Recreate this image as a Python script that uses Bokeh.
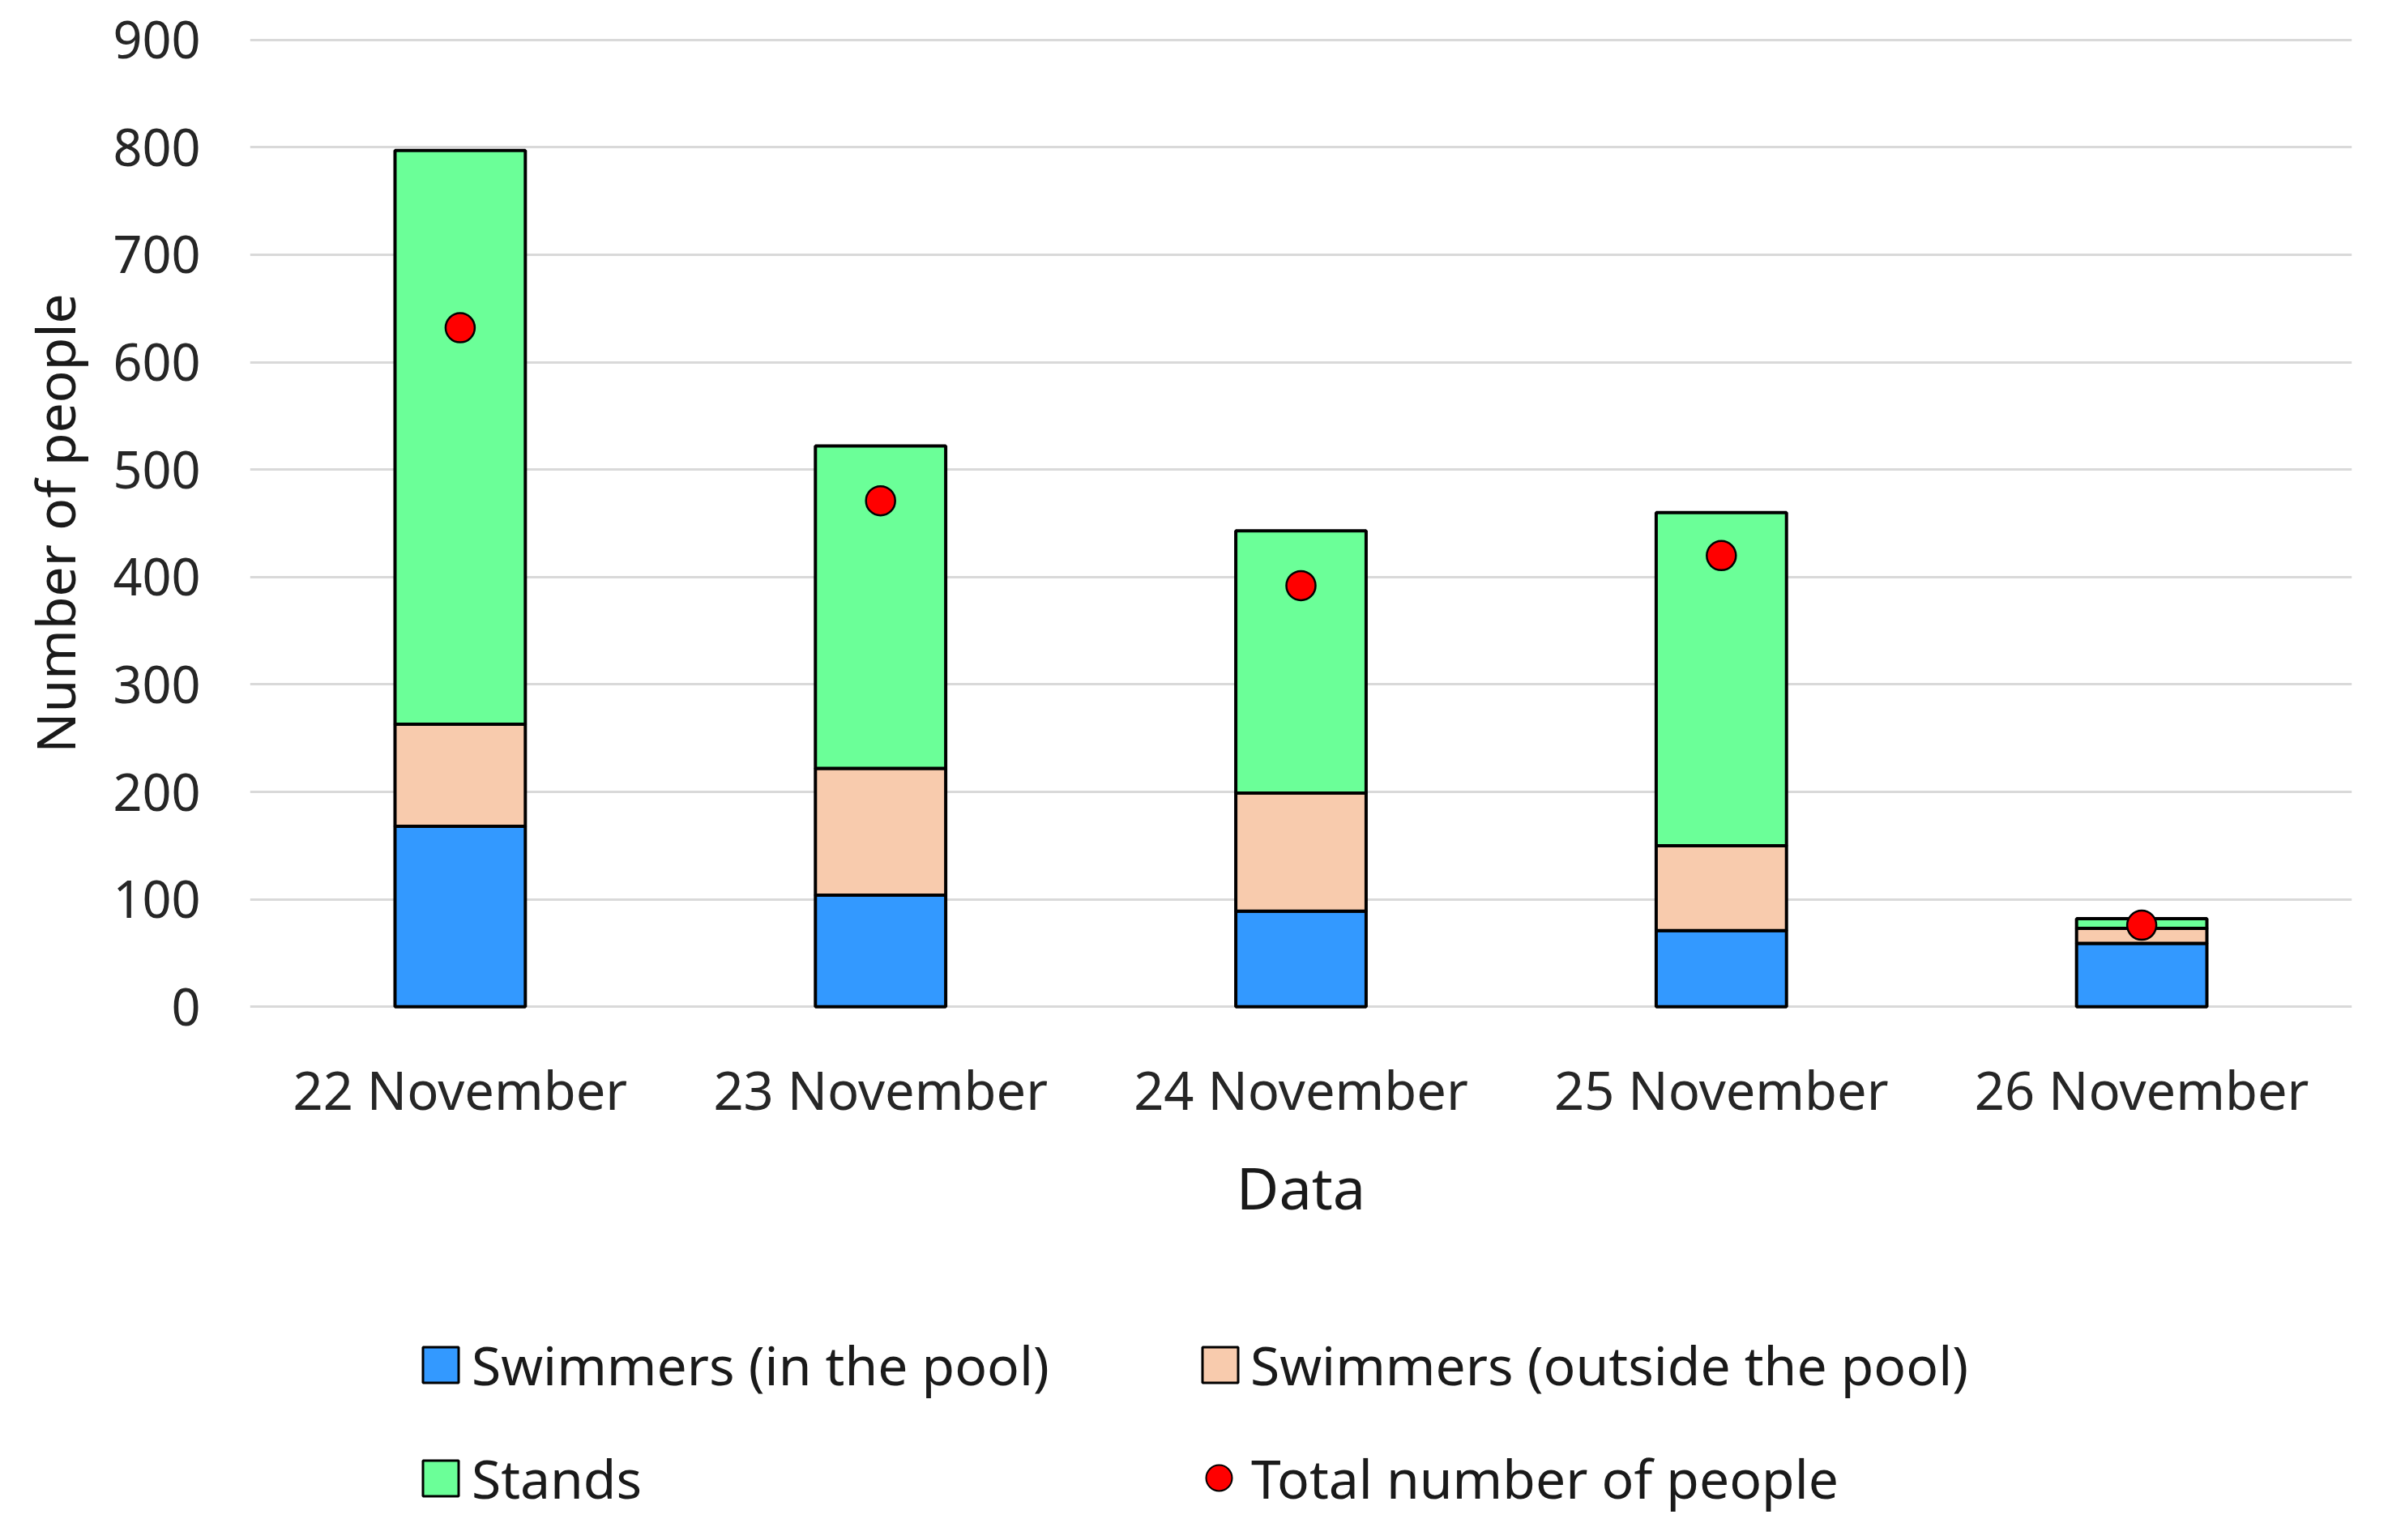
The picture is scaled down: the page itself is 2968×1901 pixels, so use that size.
from bokeh.plotting import figure
from bokeh.models import ColumnDataSource, Range1d, FactorRange, Legend, LegendItem
from bokeh.layouts import column
from bokeh.embed import file_html
from bokeh.resources import INLINE

dates = ["22 November", "23 November", "24 November", "25 November", "26 November"]
in_pool = [168, 104, 89, 71, 59]
outside_pool = [95, 118, 110, 79, 14]
stands = [534, 300, 244, 310, 9]
total_people = [632, 471, 392, 420, 76]
y_ticks = [0, 100, 200, 300, 400, 500, 600, 700, 800, 900]

series = ["in_pool", "outside_pool", "stands"]
series_labels = ["Swimmers (in the pool)", "Swimmers (outside the pool)", "Stands"]
total_label = "Total number of people"
colors = ["#3399FF", "#F8CBAD", "#6BFF98"]

source = ColumnDataSource(dict(date=dates, in_pool=in_pool, outside_pool=outside_pool,
                               stands=stands, total=total_people))

FONT = "Noto Sans"
W = 2952
H1 = 1545
H2 = 1885 - H1
LEFT = 308
NAN = float("nan")

p = figure(x_range=FactorRange(*dates, range_padding=0), y_range=Range1d(-2, 902),
           width=W, height=H1, output_backend="svg", toolbar_location=None,
           min_border_left=LEFT, min_border_right=50, min_border_top=46, min_border_bottom=300)
p.outline_line_color = None

bars = p.vbar_stack(series, x="date", width=0.31, source=source, color=colors,
                    line_color="black", line_width=4)
dots = p.scatter(x="date", y="total", source=source, size=36, fill_color="#FF0000",
                 line_color="black", line_width=2.5)

p.yaxis.ticker = y_ticks
p.ygrid.grid_line_color = "#D9D9D9"
p.ygrid.grid_line_width = 3
p.xgrid.grid_line_color = None
p.ygrid.level = "underlay"
for ax in (p.xaxis[0], p.yaxis[0]):
    ax.axis_line_color = None
    ax.major_tick_line_color = None
    ax.minor_tick_line_color = None
    ax.major_tick_out = 0
    ax.major_label_text_font = FONT
    ax.major_label_text_color = "#262626"
    ax.axis_label_text_font = FONT
    ax.axis_label_text_font_style = "normal"
    ax.axis_label_text_color = "#1a1a1a"
p.xaxis.major_label_text_font_size = "65px"
p.yaxis.major_label_text_font_size = "63px"
p.xaxis.axis_label_text_font_size = "72px"
p.yaxis.axis_label_text_font_size = "66px"
p.xaxis.axis_label = "Data"
p.yaxis.axis_label = "Number of people"
p.xaxis.major_label_standoff = 55
p.xaxis.axis_label_standoff = 24
p.yaxis.major_label_standoff = 61
p.yaxis.axis_label_standoff = 24

# legend strip below the chart (its frame is aligned with the chart frame)
lp = figure(width=W, height=H2, x_range=Range1d(0, 1), y_range=Range1d(0, 1),
            output_backend="svg", toolbar_location=None, x_axis_type=None, y_axis_type=None,
            min_border_left=LEFT, min_border_right=50, min_border_top=0, min_border_bottom=0)
lp.outline_line_color = None
lp.xgrid.grid_line_color = None
lp.ygrid.grid_line_color = None
# legend proxies with NaN data: nothing is drawn, only their legend glyphs show
proxies = [lp.vbar(x=[NAN], top=[NAN], bottom=[NAN], width=0.1, fill_color=c,
                   line_color="black", line_width=3) for c in colors]
dot_proxy = lp.scatter(x=[NAN], y=[NAN], fill_color="#FF0000", line_color="black", line_width=2)

def make_legend(label, renderer, vx, vy, gw, gh, standoff):
    return Legend(items=[LegendItem(label=label, renderers=[renderer])],
                  location=(vx - LEFT, vy), glyph_width=gw, glyph_height=gh,
                  label_standoff=standoff, padding=0, margin=0, spacing=0,
                  border_line_color=None, background_fill_alpha=0,
                  label_text_font=FONT, label_text_font_size="66px",
                  label_text_color="#1a1a1a")

legs = [
    make_legend(series_labels[0], proxies[0], 516, 156, 55, 55, 11),
    make_legend(series_labels[1], proxies[1], 1478, 156, 55, 55, 10),
    make_legend(series_labels[2], proxies[2], 516, 16, 55, 55, 11),
    make_legend(total_label, dot_proxy, 1464, 16, 80, 80, 0),
]
for lg in legs:
    lp.add_layout(lg, "center")

open("out.html", "w").write(file_html(column(p, lp), INLINE))
